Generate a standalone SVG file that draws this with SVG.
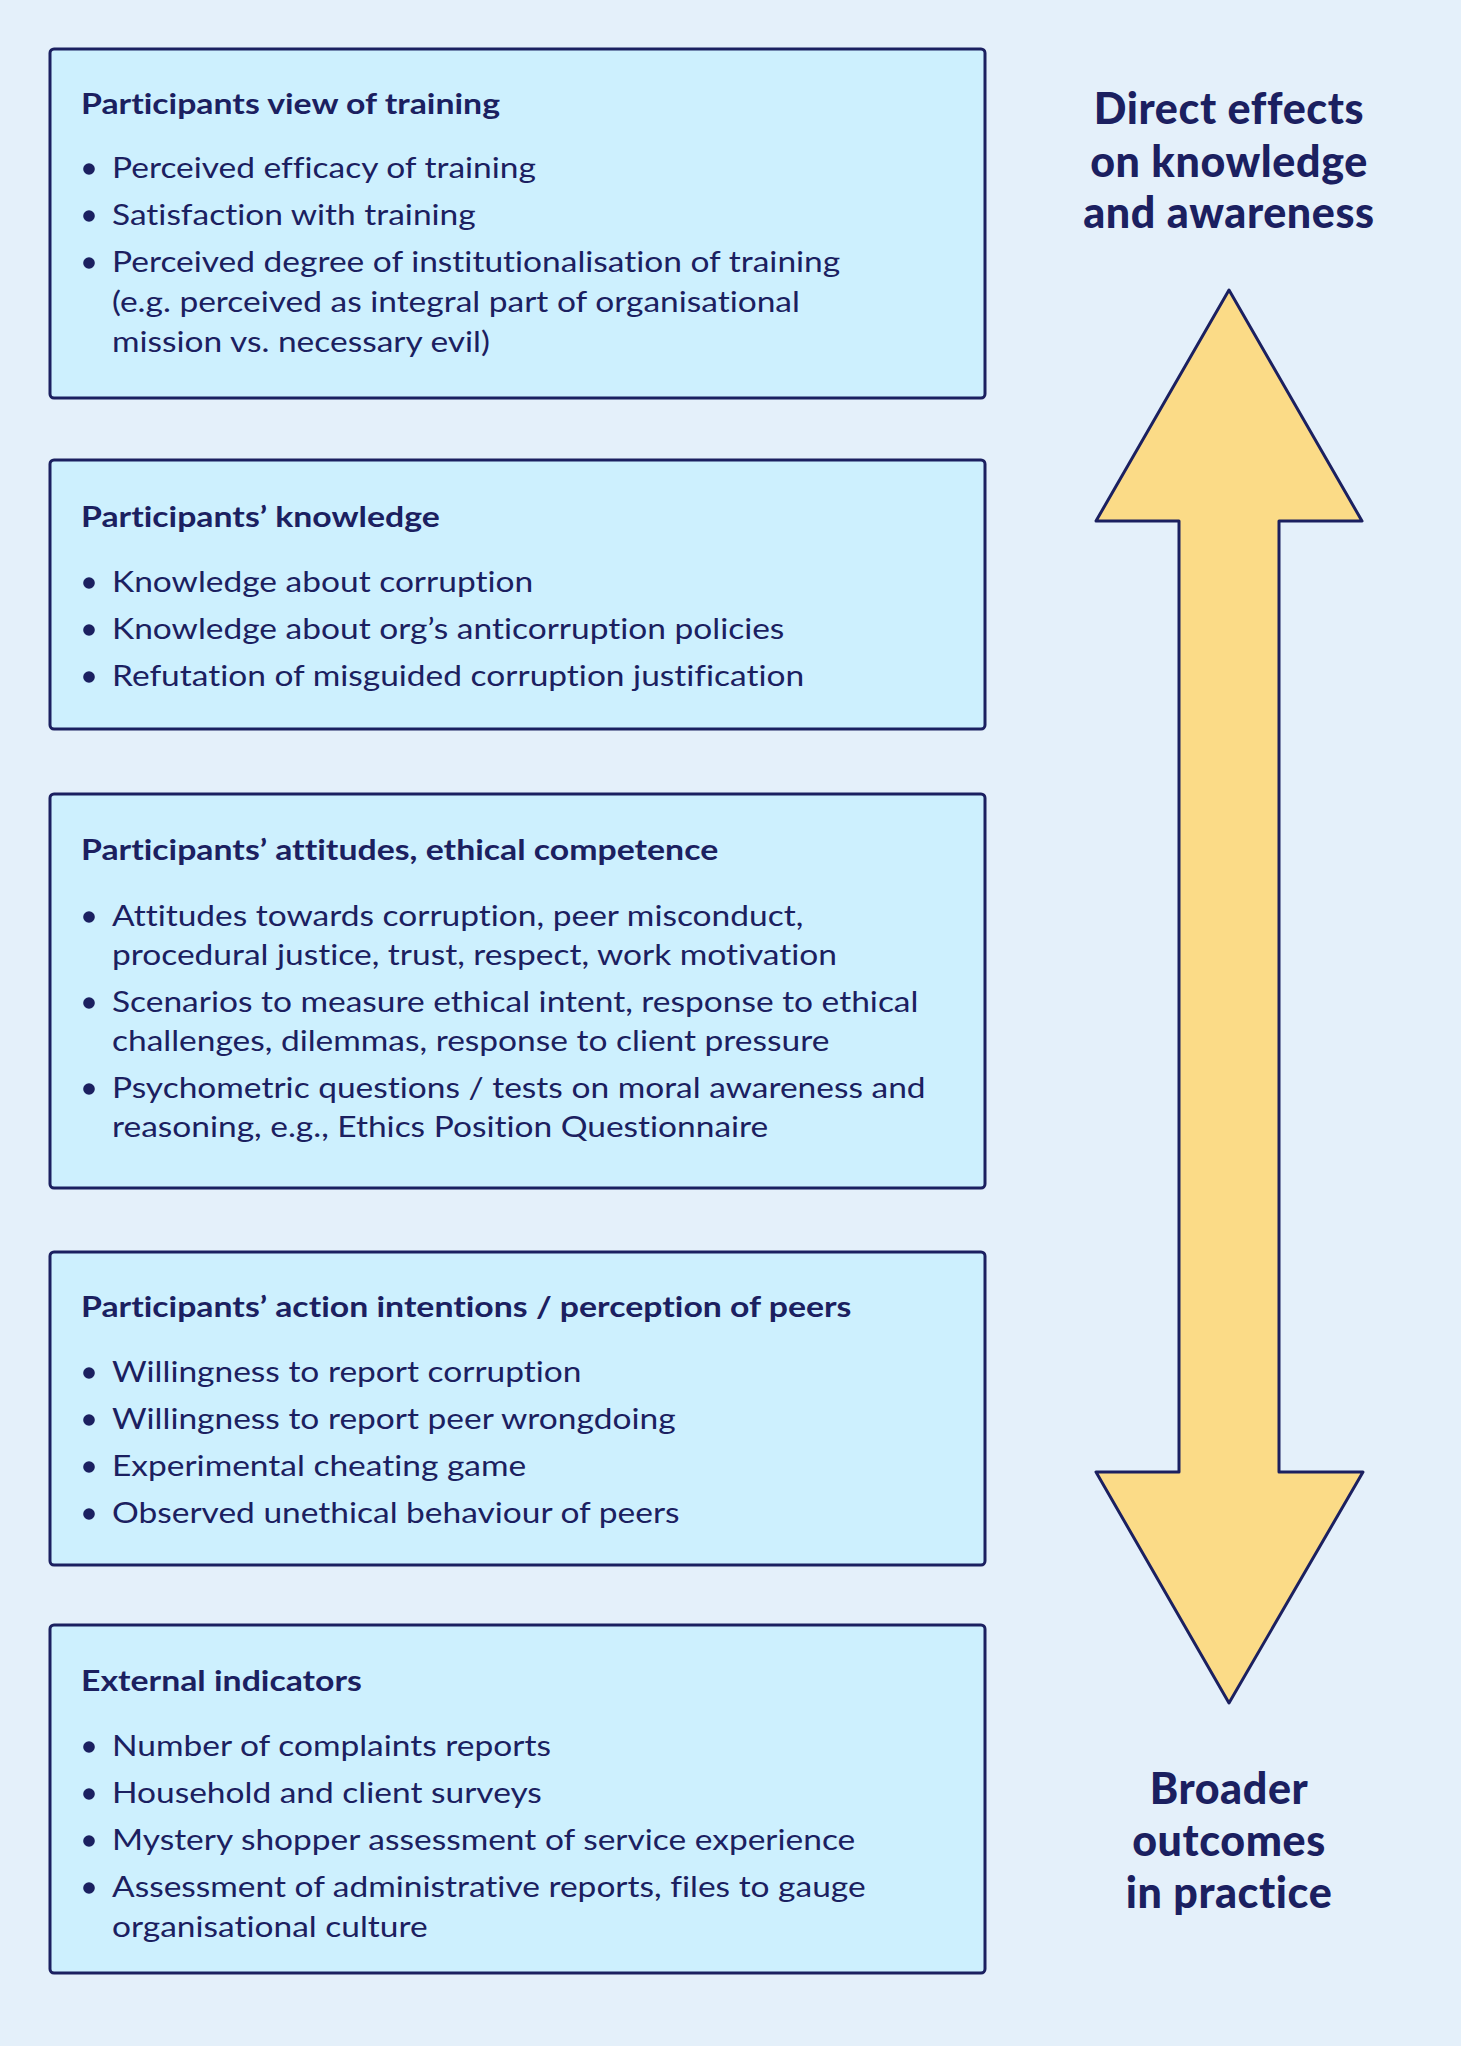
<svg xmlns="http://www.w3.org/2000/svg" width="1461" height="2046" viewBox="0 0 1461 2046">
<style>
.box{fill:#cdf0fe;stroke:#1b2060;stroke-width:3}
.t{font-family:Lato,"Open Sans",sans-serif;font-size:29px;fill:#1b2060;font-variant-ligatures:none;transform:matrix(1.155,0,0,1,-17.36,0)}
.h{font-weight:bold;transform:matrix(1.166,0,0,1,-13.45,0)}
.b{fill:#1b2060}
.big{font-family:Lato,"Open Sans",sans-serif;font-size:43px;font-weight:900;letter-spacing:0.6px;fill:#1b2060;text-anchor:middle}
</style>
<rect x="0" y="0" width="1461" height="2046" fill="#e4f0fa"/>
<g id="box1">
<rect class="box" x="50" y="49" width="935" height="349" rx="4"/>
<text class="t h" x="81" y="114">Participants view of training</text>
<circle class="b" cx="89" cy="169" r="5.8"/><text class="t" x="112" y="178">Perceived efficacy of training</text>
<circle class="b" cx="89" cy="216" r="5.8"/><text class="t" x="112" y="225">Satisfaction with training</text>
<circle class="b" cx="89" cy="263" r="5.8"/><text class="t" x="112" y="272">Perceived degree of institutionalisation of training</text>
<text class="t" x="112" y="312">(e.g. perceived as integral part of organisational</text>
<text class="t" x="112" y="352">mission vs. necessary evil)</text>
</g>
<g id="box2">
<rect class="box" x="50" y="460" width="935" height="269" rx="4"/>
<text class="t h" x="81" y="527">Participants’ knowledge</text>
<circle class="b" cx="89" cy="583" r="5.8"/><text class="t" x="112" y="592">Knowledge about corruption</text>
<circle class="b" cx="89" cy="630" r="5.8"/><text class="t" x="112" y="639">Knowledge about org’s anticorruption policies</text>
<circle class="b" cx="89" cy="677" r="5.8"/><text class="t" x="112" y="686">Refutation of misguided corruption justification</text>
</g>
<g id="box3">
<rect class="box" x="50" y="794" width="935" height="394" rx="4"/>
<text class="t h" x="81" y="860">Participants’ attitudes, ethical competence</text>
<circle class="b" cx="89" cy="917" r="5.8"/><text class="t" x="112" y="926">Attitudes towards corruption, peer misconduct,</text>
<text class="t" x="112" y="965">procedural justice, trust, respect, work motivation</text>
<circle class="b" cx="89" cy="1003" r="5.8"/><text class="t" x="112" y="1012">Scenarios to measure ethical intent, response to ethical</text>
<text class="t" x="112" y="1051">challenges, dilemmas, response to client pressure</text>
<circle class="b" cx="89" cy="1089" r="5.8"/><text class="t" x="112" y="1098">Psychometric questions / tests on moral awareness and</text>
<text class="t" x="112" y="1137">reasoning, e.g., Ethics Position Questionnaire</text>
</g>
<g id="box4">
<rect class="box" x="50" y="1252" width="935" height="313" rx="4"/>
<text class="t h" x="81" y="1317">Participants’ action intentions / perception of peers</text>
<circle class="b" cx="89" cy="1373" r="5.8"/><text class="t" x="112" y="1382">Willingness to report corruption</text>
<circle class="b" cx="89" cy="1420" r="5.8"/><text class="t" x="112" y="1429">Willingness to report peer wrongdoing</text>
<circle class="b" cx="89" cy="1467" r="5.8"/><text class="t" x="112" y="1476">Experimental cheating game</text>
<circle class="b" cx="89" cy="1514" r="5.8"/><text class="t" x="112" y="1523">Observed unethical behaviour of peers</text>
</g>
<g id="box5">
<rect class="box" x="50" y="1625" width="935" height="348" rx="4"/>
<text class="t h" x="81" y="1691">External indicators</text>
<circle class="b" cx="89" cy="1747" r="5.8"/><text class="t" x="112" y="1756">Number of complaints reports</text>
<circle class="b" cx="89" cy="1794" r="5.8"/><text class="t" x="112" y="1803">Household and client surveys</text>
<circle class="b" cx="89" cy="1841" r="5.8"/><text class="t" x="112" y="1850">Mystery shopper assessment of service experience</text>
<circle class="b" cx="89" cy="1888" r="5.8"/><text class="t" x="112" y="1897">Assessment of administrative reports, files to gauge</text>
<text class="t" x="112" y="1937">organisational culture</text>
</g>
<g id="arrow">
<polygon points="1229,290 1362,521 1279,521 1279,1472 1363,1472 1229,1703 1096,1472 1179,1472 1179,521 1096,521" fill="#fbdb87" stroke="#1b2060" stroke-width="3" stroke-linejoin="round"/>
</g>
<g id="label-top">
<text class="big" x="1229" y="124">Direct effects</text>
<text class="big" x="1229" y="177">on knowledge</text>
<text class="big" x="1229" y="228">and awareness</text>
</g>
<g id="label-bottom">
<text class="big" x="1229" y="1804">Broader</text>
<text class="big" x="1229" y="1856">outcomes</text>
<text class="big" x="1229" y="1908">in practice</text>
</g>
</svg>
